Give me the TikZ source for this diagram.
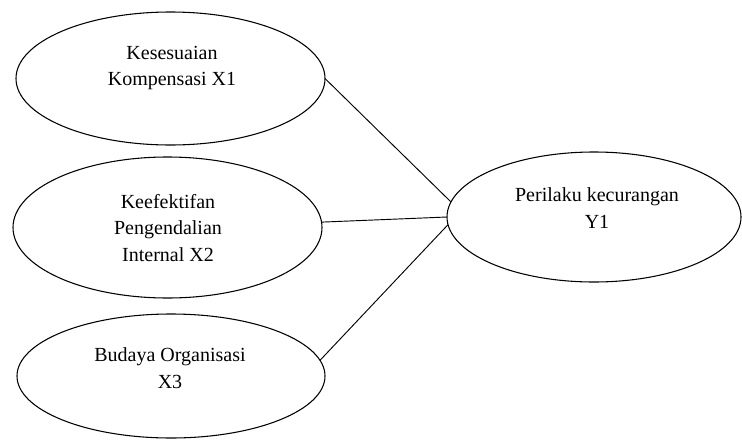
\documentclass[tikz,border=0pt]{standalone}
\usepackage{fontspec}
\setmainfont{Liberation Serif}
\usetikzlibrary{shapes.geometric, positioning, calc}

\begin{document}
\begin{tikzpicture}[
  x=0.75pt, y=-0.75pt,
  var/.style={ellipse, draw, line width=0.8pt, inner sep=0pt, outer sep=0pt},
  lbl/.style={align=center, inner sep=0pt, font=\fontsize{15}{20}\selectfont},
  link/.style={line width=0.7pt}
]
  \useasboundingbox (0,0) rectangle (742,439);

  % Variables (left)
  \node[var, minimum width=231.75pt, minimum height=99.75pt] (k1) at (170.5,78.5) {};
  \node[var, minimum width=231.75pt, minimum height=105.75pt] (k2) at (167.5,227.5) {};
  \node[var, minimum width=231pt, minimum height=93pt] (b3) at (171,376) {};

  % Dependent variable (right)
  \node[var, minimum width=220.5pt, minimum height=97.5pt] (y1) at (594,217) {};

  % Labels
  \node[lbl] (t1) at (172,68) {Kesesuaian\\Kompensasi X1};
  \node[lbl] (t2) at (168,228) {Keefektifan\\Pengendalian\\Internal X2};
  \node[lbl] (t3) at (170,368) {Budaya Organisasi\\X3};
  \node[lbl] (ty) at (597,208) {Perilaku kecurangan\\Y1};

  % Connectors
  \draw[link] (k1.east) -- (y1.174);
  \draw[link] (k2.2) -- (y1.west);
  \draw[link] (b3.6) -- (y1.183);
\end{tikzpicture}
\end{document}
